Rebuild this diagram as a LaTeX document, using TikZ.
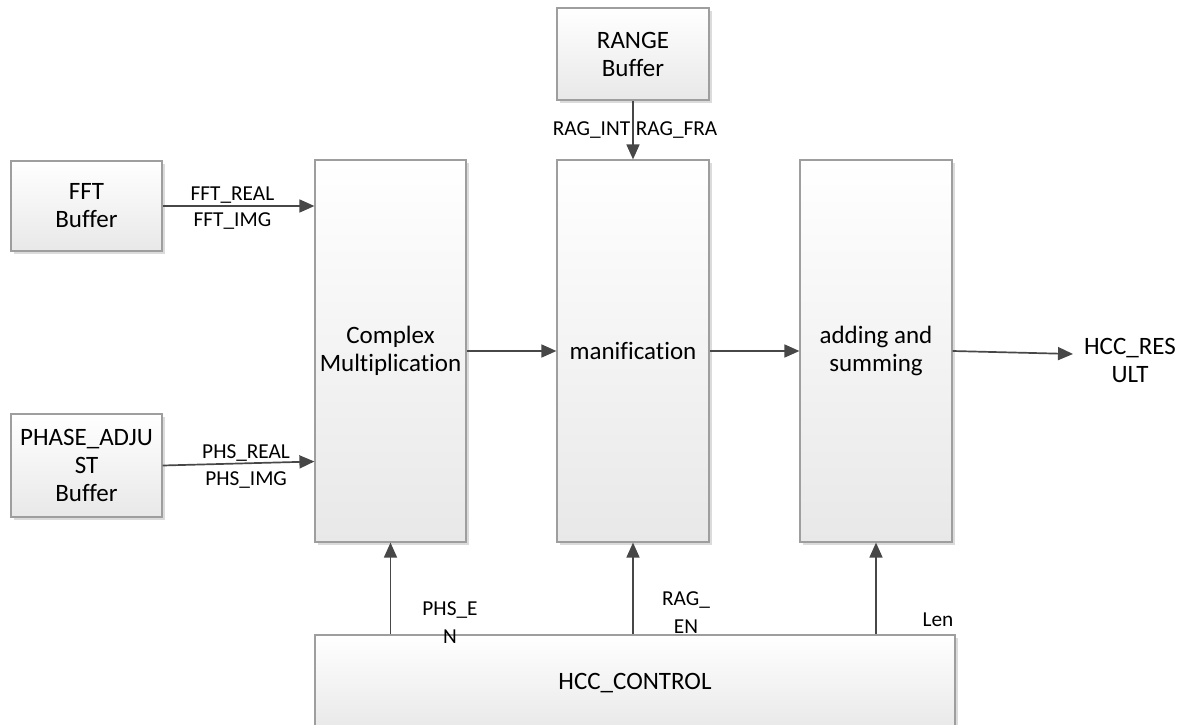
\documentclass[tikz,border=0pt]{standalone}
\usepackage{fontspec}
\setmainfont{Carlito}[Ligatures=NoCommon]
\usetikzlibrary{arrows.meta,shadows}

\begin{document}
\begin{tikzpicture}[x=1pt, y=1pt,
 blk/.style={draw=black!38, line width=1.2pt, top color=white, bottom color=black!9,
  align=center, inner sep=0pt, font=\fontsize{25}{28}\selectfont,
  drop shadow={shadow xshift=3pt, shadow yshift=-3pt, fill=black!14, opacity=1}},
 sig/.style={draw=black!72, line width=1.7pt, -{Triangle[length=15pt,width=13pt]}},
 lbl/.style={font=\fontsize{21.3}{28}\selectfont, align=center, inner sep=2pt}]
\useasboundingbox (0,0) rectangle (1187,-724);
% buffers
\node[blk, minimum width=151pt, minimum height=90pt] (fft) at (86.5,-206) {FFT\\Buffer};
\node[blk, minimum width=151pt, minimum height=103pt] (phase) at (86.5,-465.5) {PHASE\_ADJU\\ST\\Buffer};
\node[blk, minimum width=152pt, minimum height=92pt] (range) at (633,-54) {RANGE\\Buffer};
% processing blocks
\node[blk, minimum width=151pt, minimum height=382pt] (cm) at (390.5,-351) {Complex\\Multiplication};
\node[blk, minimum width=152pt, minimum height=382pt] (man) at (633,-351) {manification};
\node[blk, minimum width=152pt, minimum height=382pt] (add) at (876,-351) {adding and\\summing};
\node[blk, minimum width=640pt, minimum height=96pt] (ctrl) at (635,-683) {HCC\_CONTROL};
\node[lbl, font=\fontsize{25}{28}\selectfont] (res) at (1130,-360) {HCC\_RES\\ULT};
\coordinate (resin) at (1073,-354);
% data paths
\draw[sig] (fft.east) -- (fft.east -| cm.west)
 node[lbl, above, pos=0.46] {FFT\_REAL} node[lbl, below, pos=0.46, yshift=-4pt] {FFT\_IMG};
\draw[sig] (phase.east) -- ([yshift=4pt]phase.east -| cm.west)
 node[lbl, above, pos=0.55, yshift=-1pt] {PHS\_REAL} node[lbl, below, pos=0.55, yshift=-6pt] {PHS\_IMG};
\draw[sig] (range.south) -- (range.south |- man.north)
 node[lbl, left, pos=0.5] {RAG\_INT} node[lbl, right, pos=0.5] {RAG\_FRA};
\draw[sig] (cm.east) -- (man.west);
\draw[sig] (man.east) -- (add.west);
\draw[sig] (add.east) -- (resin);
% control
\draw[sig] (cm.south |- ctrl.north) -- (cm.south);
\draw[sig] (man.south |- ctrl.north) -- (man.south);
\draw[sig] (add.south |- ctrl.north) -- (add.south);
\node[lbl] (phsen) at (450,-623) {PHS\_E\\N};
\node[lbl] (ragen) at (686,-613) {RAG\_\\EN};
\node[lbl] (len) at (938,-620) {Len};
\end{tikzpicture}
\end{document}
